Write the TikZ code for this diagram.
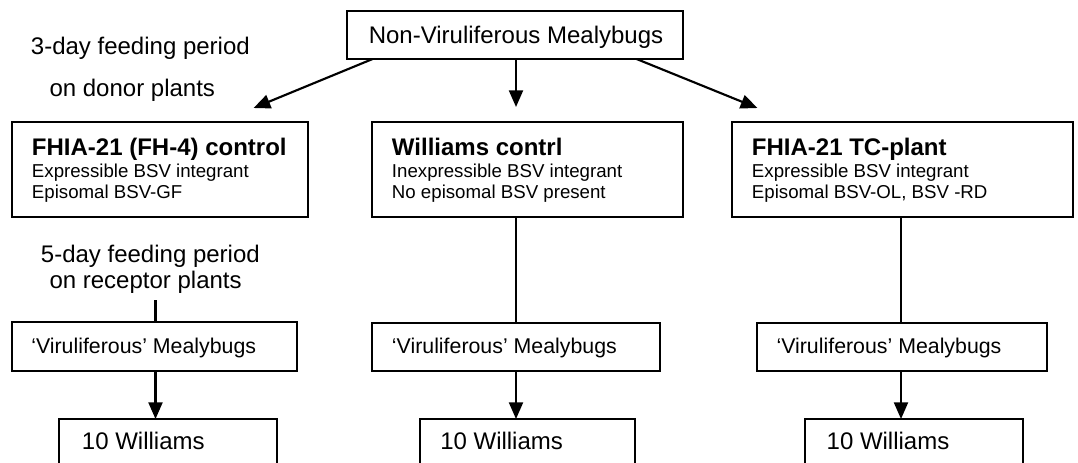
\documentclass[tikz,border=0pt]{standalone}
\usepackage{fontspec}
\setmainfont{Liberation Sans}
\usetikzlibrary{arrows.meta,fit}
\begin{document}
\begin{tikzpicture}[x=0.75pt,y=-0.75pt,
  box/.style={draw, line width=1.6pt, inner sep=0pt},
  conn/.style={line width=1.6pt},
  arr/.style={line width=1.6pt, -{Triangle[length=12.5pt,width=10.5pt]}},
  lbl/.style={anchor=base west, inner sep=0pt, font=\fontsize{18}{21}\selectfont},
  ttl/.style={anchor=base west, inner sep=0pt, font=\bfseries\fontsize{18}{21}\selectfont},
  sm/.style={anchor=base west, inner sep=0pt, font=\fontsize{14}{16}\selectfont},
  vir/.style={anchor=base west, inner sep=0pt, font=\fontsize{16}{19}\selectfont}]
\useasboundingbox (0,0) rectangle (1078,462);
\clip (0,0) rectangle (1078,462);

% boxes
\node[box, fit={(347,11) (683,59)}] (top) {};
\node[box, fit={(12,122) (308,217)}] (b1) {};
\node[box, fit={(372,122) (683,217)}] (b2) {};
\node[box, fit={(732,122) (1073,217)}] (b3) {};
\node[box, fit={(12,322) (297,371)}] (v1) {};
\node[box, fit={(372,323) (660,371)}] (v2) {};
\node[box, fit={(757,323) (1047,371)}] (v3) {};
\node[box, fit={(59,419) (277,490)}] (w1) {};
\node[box, fit={(420,419) (635,490)}] (w2) {};
\node[box, fit={(805,419) (1023,490)}] (w3) {};

% texts
\node[lbl, anchor=base] (t0) at (516,43) {Non-Viruliferous Mealybugs};
\node[lbl] (l1) at (30.7,54) {3-day feeding period};
\node[lbl] (l2) at (49.3,96) {on donor plants};
\node[lbl] (l3) at (40.7,262.7) {5-day feeding period};
\node[lbl] (l4) at (49.3,288.3) {on receptor plants};

\node[ttl] (b1a) at (31.7,155) {FHIA-21 (FH-4) control};
\node[sm] (b1b) at (31.7,177.5) {Expressible BSV integrant};
\node[sm] (b1c) at (31.7,198.5) {Episomal BSV-GF};

\node[ttl] (b2a) at (391.7,155) {Williams contrl};
\node[sm] (b2b) at (391.7,177.5) {Inexpressible BSV integrant};
\node[sm] (b2c) at (391.7,198.5) {No episomal BSV present};

\node[ttl] (b3a) at (751.7,155) {FHIA-21 TC-plant};
\node[sm] (b3b) at (751.7,177.5) {Expressible BSV integrant};
\node[sm] (b3c) at (751.7,198.5) {Episomal BSV-OL, BSV -RD};

\node[vir] (v1t) at (31,353) {‘Viruliferous’ Mealybugs};
\node[vir] (v2t) at (391.7,353) {‘Viruliferous’ Mealybugs};
\node[vir] (v3t) at (776.3,353) {‘Viruliferous’ Mealybugs};

\node[lbl] (w1t) at (81.7,449) {10 Williams};
\node[lbl] (w2t) at (440,449) {10 Williams};
\node[lbl] (w3t) at (826.4,449) {10 Williams};

% connector coordinates
\coordinate (s1) at (372.6,59);
\coordinate (e1) at (253.6,108);
\coordinate (s2) at (516,59);
\coordinate (e2) at (516,107);
\coordinate (s3) at (636.6,59);
\coordinate (e3) at (757.4,108);
\coordinate (m2a) at (516,217);
\coordinate (m2b) at (516,323);
\coordinate (m3a) at (901,217);
\coordinate (m3b) at (901,323);
\coordinate (m1a) at (155.5,300);
\coordinate (m1b) at (155.5,322);
\coordinate (d1a) at (155.5,371);
\coordinate (d1b) at (155.5,419);
\coordinate (d2a) at (516,371);
\coordinate (d2b) at (516,419);
\coordinate (d3a) at (901,371);
\coordinate (d3b) at (901,419);

\draw[arr] (s1) -- (e1);
\draw[arr] (s2) -- (e2);
\draw[arr] (s3) -- (e3);
\draw[conn] (m2a) -- (m2b);
\draw[conn] (m3a) -- (m3b);
\draw[conn] (m1a) -- (m1b);
\draw[arr] (d1a) -- (d1b);
\draw[arr] (d2a) -- (d2b);
\draw[arr] (d3a) -- (d3b);
\end{tikzpicture}
\end{document}
